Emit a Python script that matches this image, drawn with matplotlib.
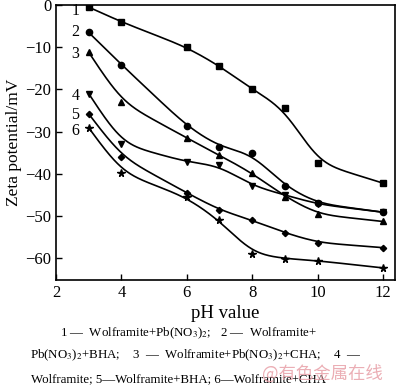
import numpy as np
import matplotlib
matplotlib.use("Agg")
import matplotlib.pyplot as plt

plt.rcParams['font.family'] = ['Liberation Serif', 'DejaVu Serif']
plt.rcParams['mathtext.fontset'] = 'stix'

# pH values measured
ph = [3, 4, 6, 7, 8, 9, 10, 12]

# zeta potential (mV) for each curve
zeta_1 = [-0.5, -4.0, -10.0, -14.4, -20.0, -24.5, -37.4, -42.2]
zeta_2 = [-6.5, -14.1, -28.7, -33.7, -35.1, -43.0, -47.0, -49.1]
zeta_3 = [-11.2, -23.0, -31.5, -35.6, -39.8, -45.4, -49.6, -51.3]
zeta_4 = [-21.0, -32.9, -37.2, -38.0, -42.9, -45.0, -47.2, -49.1]
zeta_5 = [-25.8, -36.0, -44.5, -48.6, -51.0, -54.0, -56.3, -57.5]
zeta_6 = [-29.1, -39.7, -45.6, -51.0, -59.0, -60.1, -60.6, -62.3]

series = [zeta_1, zeta_2, zeta_3, zeta_4, zeta_5, zeta_6]
curve_ids = ['1', '2', '3', '4', '5', '6']
label_y = [-1.5, -6.5, -11.5, -21.5, -26.0, -29.8]
markers = ['s', 'o', '^', 'v', 'D', '*']
msizes = [4.5, 4.5, 4.5, 4.5, 3.2, 5.5]


def smooth_line(x, y, sigma=0.42, step=0.01):
    """Gaussian-smoothed trend line, only used for drawing the curve."""
    x = np.asarray(x, float)
    y = np.asarray(y, float)
    pad = 4 * sigma
    xd = np.arange(x[0] - pad, x[-1] + pad + step / 2, step)
    yd = np.interp(xd, x, y)
    lo = xd < x[0]
    hi = xd > x[-1]
    yd[lo] = y[0] + (xd[lo] - x[0]) * (y[1] - y[0]) / (x[1] - x[0])
    yd[hi] = y[-1] + (xd[hi] - x[-1]) * (y[-1] - y[-2]) / (x[-1] - x[-2])
    k = np.arange(-pad, pad + step / 2, step)
    kern = np.exp(-0.5 * (k / sigma) ** 2)
    kern /= kern.sum()
    ys = np.convolve(yd, kern, mode='same')
    keep = (xd >= x[0] - 1e-9) & (xd <= x[-1] + 1e-9)
    return xd[keep], ys[keep]


fig = plt.figure(figsize=(4.0, 3.88), dpi=100)
ax = fig.add_axes([0.14, 0.278, 0.8475, 0.709])

for vals, cid, ly, m, ms in zip(series, curve_ids, label_y, markers, msizes):
    sx, sy = smooth_line(ph, vals)
    ax.plot(sx, sy, color='black', linewidth=1.2)
    ax.plot(ph, vals, linestyle='none', marker=m, markersize=ms,
            color='black')
    ax.text(2.72, ly, cid, fontsize=11.5, ha='right', va='center')

ax.set_xlim(2, 12.37)
ax.set_ylim(-65.2, 0)
ax.set_xticks([2, 4, 6, 8, 10, 12])
ax.set_yticks([0, -10, -20, -30, -40, -50, -60])
ax.tick_params(direction='in', length=4, labelsize=12, width=1)
for s in ax.spines.values():
    s.set_linewidth(1.2)

ax.set_xlabel('pH value', fontsize=13.5, labelpad=3)
ax.set_ylabel('Zeta potential/mV', fontsize=12.5, labelpad=2)

cap = 9.3
fig.text(0.15, 1 - 333 / 388,
         '1 —  Wolframite+Pb(NO$_3$)$_2$;   2 —  Wolframite+',
         fontsize=cap, va='center')
fig.text(0.075, 1 - 355 / 388,
         'Pb(NO$_3$)$_2$+BHA;    3  —  Wolframite+Pb(NO$_3$)$_2$+CHA;    4  —',
         fontsize=cap, va='center')
fig.text(0.077, 1 - 379 / 388,
         'Wolframite; 5—Wolframite+BHA; 6—Wolframite+CHA',
         fontsize=cap, va='center')
fig.text(0.655, 1 - 374 / 388, '@有色金属在线', fontsize=12.5,
         color='#e8a0a8', alpha=0.85, va='center',
         family=['Noto Sans CJK SC', 'DejaVu Sans'])

fig.savefig('out.png', dpi=100)
